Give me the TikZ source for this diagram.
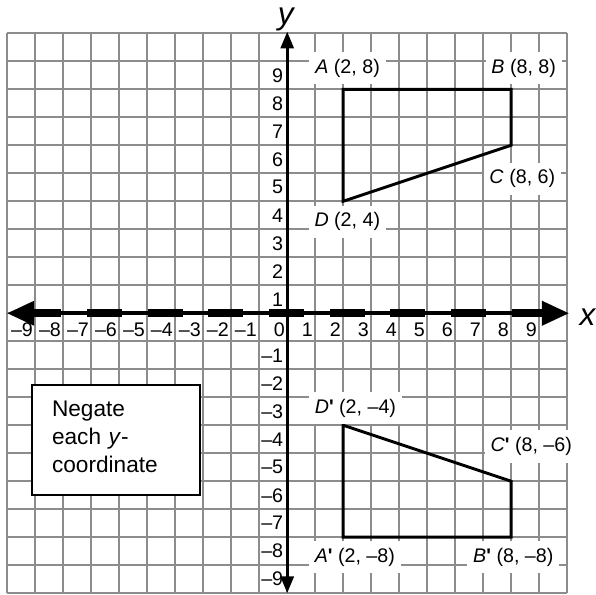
\documentclass[tikz,border=0pt]{standalone}
\usepackage{fontspec}
\setmainfont{Liberation Sans}
\usetikzlibrary{arrows.meta}
\definecolor{gridgray}{HTML}{8C8C8C}
\tikzset{
  gridline/.style={draw=gridgray, line width=1pt},
  ticklbl/.style={inner sep=0pt, font=\fontsize{10}{12}\selectfont},
  ptlbl/.style={fill=white, inner xsep=3pt, inner ysep=3.5pt, anchor=base west, font=\fontsize{10}{12}\selectfont},
  shapeline/.style={line width=1.5pt, line join=miter},
  axislbl/.style={inner sep=0pt, anchor=base west, font=\fontsize{16}{19}\selectfont\itshape},
  xarrow/.style={line width=1.8pt, {Triangle[length=0.48cm,width=0.43cm]}-{Triangle[length=0.48cm,width=0.43cm]}},
  yarrow/.style={line width=1.6pt, {Triangle[length=0.3cm,width=0.23cm]}-{Triangle[length=0.3cm,width=0.23cm]}},
  reflline/.style={line width=4pt, dash pattern=on 0.625cm off 0.459cm},
  notebox/.style={draw, line width=1pt, fill=white, text width=2.28cm, inner xsep=0.36cm, inner ysep=0pt, minimum height=1.965cm, align=left, font=\fontsize{11.5}{14.2}\selectfont}
}
\newcommand{\prm}{\textbf{\textquotesingle}}
\begin{document}
\begin{tikzpicture}[x=0.5cm,y=0.5cm]
\useasboundingbox (-10.26,-10.03) rectangle (11.03,11.19);
% grid
\draw[gridline, step=0.5cm] (-10,-10) grid (10,10);
% tick labels
\foreach \k in {-9,...,-1}{
  \node[ticklbl, anchor=north east] (xt\k) at ({\k-0.07},-0.33) {–\the\numexpr-\k\relax};
  \node[ticklbl, anchor=east] (yt\k) at (-0.13,{\k-0.5}) {–\the\numexpr-\k\relax};
}
\foreach \k in {1,...,9}{
  \node[ticklbl, anchor=north east] (xt\k) at ({\k-0.07},-0.33) {\k};
  \node[ticklbl, anchor=east] (yt\k) at (-0.13,{\k-0.5}) {\k};
}
\node[ticklbl, anchor=north east] (xt0) at (-0.07,-0.33) {0};
% original figure
\coordinate (A) at (2,8);
\coordinate (B) at (8,8);
\coordinate (C) at (8,6);
\coordinate (D) at (2,4);
\draw[shapeline] (A) -- (B) -- (C) -- (D) -- cycle;
% image
\coordinate (Ap) at (2,-8);
\coordinate (Bp) at (8,-8);
\coordinate (Cp) at (8,-6);
\coordinate (Dp) at (2,-4);
\draw[shapeline] (Ap) -- (Bp) -- (Cp) -- (Dp) -- cycle;
% point labels
\node[ptlbl] (lA) at (0.78,8.57) {\textit{A} (2, 8)};
\node[ptlbl] (lB) at (7.07,8.57) {\textit{B} (8, 8)};
\node[ptlbl] (lC) at (7.00,4.62) {\textit{C} (8, 6)};
\node[ptlbl] (lD) at (0.75,3.09) {\textit{D} (2, 4)};
\node[ptlbl] (lDp) at (0.76,-3.57) {\textit{D}\prm{} (2, –4)};
\node[ptlbl] (lCp) at (7.04,-4.94) {\textit{C}\prm{} (8, –6)};
\node[ptlbl] (lAp) at (0.76,-8.89) {\textit{A}\prm{} (2, –8)};
\node[ptlbl] (lBp) at (6.42,-8.89) {\textit{B}\prm{} (8, –8)};
% note box
\node[notebox] (note) at (-6.12,-4.525) {Negate\\each \textit{y}-\\coordinate\rule[-0.13cm]{0pt}{0.13cm}};
% axes
\coordinate (xl) at (-10,0);
\coordinate (xr) at (10.06,0);
\coordinate (dl) at (-9.32,0);
\coordinate (dr) at (9.27,0);
\coordinate (yb) at (0,-10);
\coordinate (ytop) at (0,10.06);
\draw[reflline] (dl) -- (dr);
\draw[xarrow] (xl) -- (xr);
\draw[yarrow] (yb) -- (ytop);
\node[axislbl] (xlab) at (10.43,-0.45) {x};
\node[axislbl] (ylab) at (-0.35,10.32) {y};
\end{tikzpicture}
\end{document}
